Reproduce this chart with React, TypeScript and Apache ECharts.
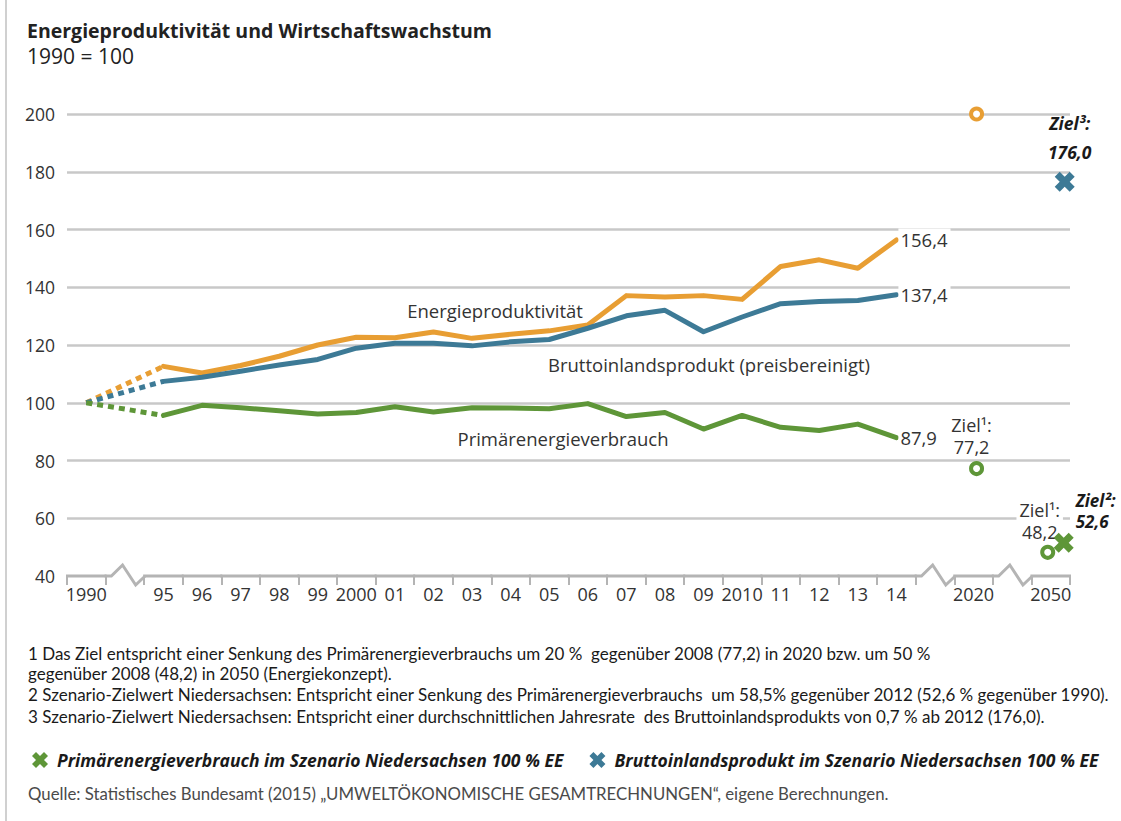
import React, { useEffect, useRef } from 'react';
import * as echarts from 'echarts';

// ---------- data ----------
const categories = [
  '1990', '', '95', '96', '97', '98', '99', '2000', '01', '02', '03', '04', '05', '06',
  '07', '08', '09', '2010', '11', '12', '13', '14', '', '2020', '', '2050',
];
const breakIndices = [1, 22, 24];
const firstYearIndex = 2; // index of "95"
const baseValue1990 = 100;

const energieproduktivitaet = [
  112.6, 110.3, 112.9, 116.1, 120.0, 122.7, 122.5, 124.5, 122.3, 123.7,
  124.9, 126.9, 137.1, 136.6, 137.1, 135.8, 147.2, 149.5, 146.6, 156.4,
];
const bruttoinlandsprodukt = [
  107.4, 108.8, 110.9, 113.1, 115.0, 118.9, 120.6, 120.6, 119.7, 121.1,
  121.9, 125.8, 130.1, 132.0, 124.6, 129.7, 134.3, 135.1, 135.4, 137.4,
];
const primaerenergieverbrauch = [
  95.6, 99.1, 98.3, 97.2, 96.1, 96.6, 98.6, 96.8, 98.3, 98.2,
  97.9, 99.7, 95.2, 96.6, 90.9, 95.6, 91.5, 90.4, 92.6, 87.9,
];

const zielEnergieproduktivitaet2020 = 200;
const zielPev2020 = 77.2;
const zielPev2050 = 48.2;
const szenarioPev2050 = 51.5;
const szenarioBip2050 = 176.5;

const yMin = 40;
const yMax = 200;
const yInterval = 20;

const footnotes = [
  '1 Das Ziel entspricht einer Senkung des Primärenergieverbrauchs um 20 %  gegenüber 2008 (77,2) in 2020 bzw. um 50 %',
  'gegenüber 2008 (48,2) in 2050 (Energiekonzept).',
  '2 Szenario-Zielwert Niedersachsen: Entspricht einer Senkung des Primärenergieverbrauchs  um 58,5% gegenüber 2012 (52,6 % gegenüber 1990).',
  '3 Szenario-Zielwert Niedersachsen: Entspricht einer durchschnittlichen Jahresrate  des Bruttoinlandsprodukts von 0,7 % ab 2012 (176,0).',
];
const legendPev = 'Primärenergieverbrauch im Szenario Niedersachsen 100 % EE';
const legendBip = 'Bruttoinlandsprodukt im Szenario Niedersachsen 100 % EE';
const sourceText = 'Quelle: Statistisches Bundesamt (2015) „UMWELTÖKONOMISCHE GESAMTRECHNUNGEN“, eigene Berechnungen.';

// ---------- styles ----------
const ORANGE = '#E89E33';
const BLUE = '#3D7A96';
const GREEN = '#5E9638';
const GRID = '#C8C8C8';
const AXIS = '#B4B4B4';
const TXT = '#333333';
const FONT = '"Open Sans", "Noto Sans", sans-serif';
const FONT2 = 'Lato, "Liberation Sans", sans-serif';
const XPATH = 'path://M25,0L50,25L75,0L100,25L75,50L100,75L75,100L50,75L25,100L0,75L25,50L0,25Z';

const solidData = (arr: number[]) =>
  categories.slice(0, firstYearIndex + arr.length).map((_, i) => (i >= firstYearIndex ? arr[i - firstYearIndex] : null));
const dashedData = (arr: number[]) =>
  categories.map((_, i) => (i === 0 ? baseValue1990 : i === firstYearIndex ? arr[0] : null));

const fmt = (v: number) => v.toFixed(1).replace('.', ',');

export default function App() {
  const ref = useRef<HTMLDivElement>(null);

  useEffect(() => {
    document.body.style.margin = '0';
    if (!ref.current) return;
    const chart = echarts.init(ref.current, undefined, { renderer: 'svg' });

    const lineSeries = (name: string, arr: number[], color: string) => [
      {
        type: 'line',
        name,
        data: solidData(arr),
        symbol: 'none',
        z: 3,
        lineStyle: { color, width: 5, join: 'round', cap: 'round' },
        endLabel: {
          show: true,
          formatter: (p: any) => fmt(Number(p.value)),
          color: TXT,
          fontSize: 18.5,
          fontFamily: FONT,
          distance: 2,
          backgroundColor: '#fff',
          padding: [2, 3, 2, 2],
        },
      },
      {
        type: 'line',
        name: name + ' 1990',
        data: dashedData(arr),
        connectNulls: true,
        symbol: 'none',
        z: 3,
        lineStyle: { color, width: 5, type: [6, 5], cap: 'butt' },
      },
    ];

    const ring = (color: string) => ({ color: '#fff', borderColor: color, borderWidth: 4, opacity: 1 });
    const bi = { fontFamily: FONT, fontStyle: 'italic', fontWeight: 'bold', fontSize: 17.5, color: '#1a1a1a' };

    const option: any = {
      animation: false,
      backgroundColor: '#ffffff',
      grid: { left: 67, right: 51, top: 114, bottom: 245 },
      xAxis: {
        type: 'category',
        data: categories,
        boundaryGap: true,
        axisLine: { show: false },
        axisTick: { show: true, interval: 0, length: 9, lineStyle: { color: AXIS, width: 2 } },
        axisLabel: { interval: 0, color: TXT, fontSize: 18, fontFamily: FONT, margin: 9 },
        splitLine: { show: false },
      },
      yAxis: {
        type: 'value',
        min: yMin,
        max: yMax,
        interval: yInterval,
        axisLine: { show: false },
        axisTick: { show: false },
        axisLabel: { color: TXT, fontSize: 17.5, fontFamily: FONT, margin: 12 },
        splitLine: { show: true, showMinLine: false, lineStyle: { color: GRID, width: 2.5 } },
      },
      legend: {
        data: [legendPev, legendBip],
        left: 27,
        top: 746,
        icon: XPATH,
        itemWidth: 16,
        itemHeight: 16,
        itemGap: 26,
        selectedMode: false,
        itemStyle: { opacity: 1 },
        textStyle: { ...bi, padding: [0, 0, 0, 4] },
      },
      graphic: [
        { type: 'line', shape: { x1: 6, y1: 0, x2: 6, y2: 821 }, style: { stroke: '#d0d0d0', lineWidth: 2 } },
        {
          type: 'text', x: 27, y: 30,
          style: { text: 'Energieproduktivität und Wirtschaftswachstum', fill: '#222', font: `bold 19.5px ${FONT}`, textVerticalAlign: 'middle' },
        },
        {
          type: 'text', x: 27, y: 56,
          style: { text: '1990 = 100', fill: '#222', font: `21px ${FONT}`, textVerticalAlign: 'middle' },
        },
        {
          type: 'text', x: 495, y: 310,
          style: { text: 'Energieproduktivität', fill: TXT, font: `18.5px ${FONT}`, textAlign: 'center', textVerticalAlign: 'middle' },
        },
        {
          type: 'text', x: 709, y: 364,
          style: { text: 'Bruttoinlandsprodukt (preisbereinigt)', fill: TXT, font: `18.5px ${FONT}`, textAlign: 'center', textVerticalAlign: 'middle' },
        },
        {
          type: 'text', x: 563, y: 438,
          style: { text: 'Primärenergieverbrauch', fill: TXT, font: `18.5px ${FONT}`, textAlign: 'center', textVerticalAlign: 'middle' },
        },
        ...footnotes.map((t, i) => ({
          type: 'text', x: 28, y: [653, 673, 694, 716][i],
          style: { text: t, fill: '#1a1a1a', font: `17px ${FONT2}`, textVerticalAlign: 'middle' },
        })),
        {
          type: 'text', x: 28, y: 793,
          style: { text: sourceText, fill: '#4a4a4a', font: `16.8px ${FONT2}`, textVerticalAlign: 'middle' },
        },
      ],
      series: [
        {
          type: 'custom',
          name: 'axis',
          silent: true,
          z: 1,
          clip: false,
          data: categories.map((_, i) => [i, yMin, breakIndices.includes(i) ? 1 : 0]),
          encode: { x: 0, y: 1 },
          renderItem: (_params: any, api: any) => {
            const p = api.coord([api.value(0), yMin]);
            const b = api.size([1, 0])[0];
            const x0 = p[0] - b / 2;
            const y = p[1];
            const pts = api.value(2)
              ? [[x0 - 1, y], [x0 + 0.15 * b, y], [x0 + 0.44 * b, y - 11], [x0 + 0.78 * b, y + 9], [x0 + b + 1, y]]
              : [[x0 - 1, y], [x0 + b + 1, y]];
            return { type: 'polyline', shape: { points: pts }, style: { stroke: AXIS, lineWidth: 3, fill: null, lineJoin: 'miter' } };
          },
        },
        ...lineSeries('Energieproduktivität', energieproduktivitaet, ORANGE),
        ...lineSeries('Bruttoinlandsprodukt (preisbereinigt)', bruttoinlandsprodukt, BLUE),
        ...lineSeries('Primärenergieverbrauch', primaerenergieverbrauch, GREEN),
        {
          type: 'scatter',
          name: 'Ziel Energieproduktivität 2020',
          z: 4,
          data: [[23, zielEnergieproduktivitaet2020]],
          symbol: 'circle',
          symbolSize: 11,
          symbolOffset: [3, 0],
          itemStyle: ring(ORANGE),
        },
        {
          type: 'scatter',
          name: 'Ziel PEV 2020',
          z: 4,
          data: [[23, zielPev2020]],
          symbol: 'circle',
          symbolSize: 11,
          symbolOffset: [3, 0],
          itemStyle: ring(GREEN),
          label: {
            show: true,
            position: 'top',
            distance: 3,
            offset: [-5, 0],
            formatter: 'Ziel¹:\n' + fmt(zielPev2020),
            color: TXT, fontSize: 18, fontFamily: FONT, lineHeight: 22,
          },
        },
        {
          type: 'scatter',
          name: 'Ziel PEV 2050',
          z: 4,
          data: [[25, zielPev2050]],
          symbol: 'circle',
          symbolSize: 11,
          symbolOffset: [-3, 0],
          itemStyle: ring(GREEN),
          label: {
            show: true,
            position: 'top',
            distance: 2,
            offset: [-8, 0],
            formatter: 'Ziel¹:\n' + fmt(zielPev2050),
            color: TXT, fontSize: 18, fontFamily: FONT, lineHeight: 22,
            backgroundColor: '#fff', padding: [0, 3, 0, 3],
          },
        },
        {
          type: 'scatter',
          name: legendPev,
          z: 5,
          data: [[25, szenarioPev2050]],
          symbol: XPATH,
          symbolSize: 20,
          symbolOffset: [13, 0],
          itemStyle: { color: GREEN, opacity: 1 },
          label: {
            show: true,
            position: 'right',
            distance: 2,
            offset: [0, -32],
            formatter: 'Ziel²:\n52,6',
            ...bi, fontSize: 17, lineHeight: 21,
          },
        },
        {
          type: 'scatter',
          name: legendBip,
          z: 5,
          data: [[25, szenarioBip2050]],
          symbol: XPATH,
          symbolSize: 20,
          symbolOffset: [14, 0],
          itemStyle: { color: BLUE, opacity: 1 },
          label: {
            show: true,
            position: 'top',
            distance: 5,
            offset: [5, 0],
            formatter: 'Ziel³:\n176,0',
            ...bi, lineHeight: 29,
          },
        },
      ],
    };

    chart.setOption(option);
    return () => chart.dispose();
  }, []);

  return <div ref={ref} style={{ width: 1121, height: 821 }} />;
}
